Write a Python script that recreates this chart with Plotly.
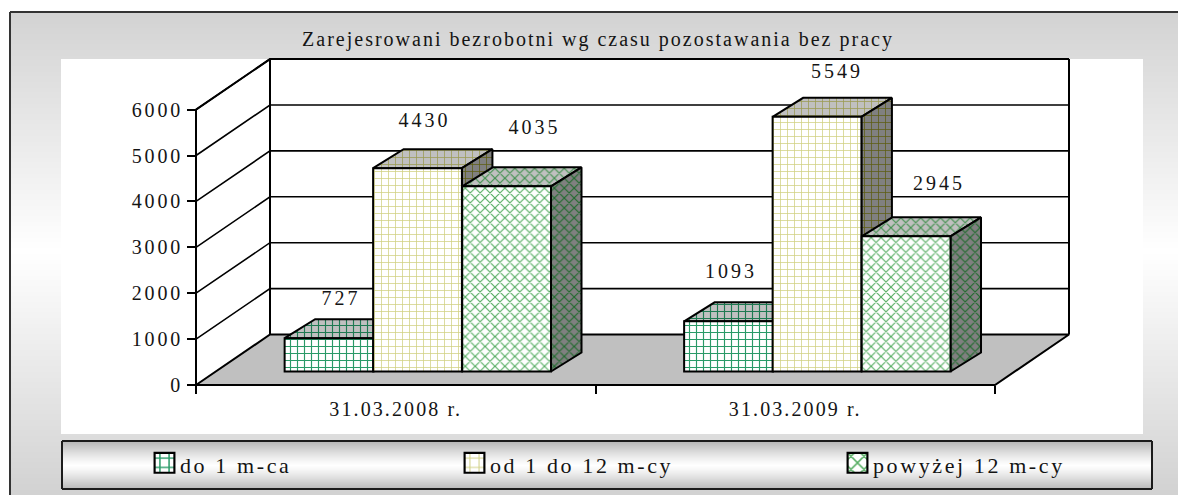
import plotly.graph_objects as go

# ---- data ----
categories = ["31.03.2008 r.", "31.03.2009 r."]
series_names = ["do 1 m-ca", "od 1 do 12 m-cy", "powyżej 12 m-cy"]
do_1_m = [727, 1093]
od_1_do_12 = [4430, 5549]
powyzej_12 = [4035, 2945]
y_ticks = [0, 1000, 2000, 3000, 4000, 5000, 6000]
title_text = "Zarejesrowani bezrobotni wg czasu pozostawania bez pracy"

# ---- figure geometry ----
W, H = 1178, 495
X0_PX, X_PX_PER_UNIT = 196.0, 399.5
Y0_PX, Y_PX_PER_UNIT = 385.0, 0.0459
x_range = [-X0_PX / X_PX_PER_UNIT, (W - X0_PX) / X_PX_PER_UNIT]
y_range = [(Y0_PX - H) / Y_PX_PER_UNIT, Y0_PX / Y_PX_PER_UNIT]
def ux(px): return px / X_PX_PER_UNIT
def uy(px): return px / Y_PX_PER_UNIT

WALL_DX, WALL_DY = ux(74), uy(50.5)
BAR_DX, BAR_DY = ux(30.5), uy(19)
BAR_BASE = uy(13.5)
BAR_W = ux(88.8)
BAR_OFFS = [-0.167, 0.0545, 0.2775]
LABEL_DX = [[12, 2.5], [7, 20], [28, 33]]
LABEL_LIFT = [[38, 48], [45.7, 43.5], [57, 51]]

series_values = [do_1_m, od_1_do_12, powyzej_12]
patterns = [
    dict(shape="+", fg="#2a9a68", size=7, sol=0.3),
    dict(shape="+", fg="#cfcf80", size=7, sol=0.2),
    dict(shape="x", fg="#55ad62", size=7, sol=0.3),
]
top_fg = ["#1f7a52", "#9a9a50", "#3f8f4c"]
side_fg = ["#1f6a42", "#5c5c10", "#1f6a2c"]

INK = "#141414"
FONT = "Liberation Serif"

# ---- background painted as bands ----
shapes = []
def band(x0, x1, y0, y1, color):
    shapes.append(dict(type="rect", xref="paper", yref="paper", layer="below",
                       x0=x0 / W, x1=x1 / W, y0=1 - y1 / H, y1=1 - y0 / H,
                       fillcolor=color, line_width=0))

def grey(level):
    v = int(round(level))
    return f"rgb({v},{v},{v})"

for yy in range(12, H, 2):
    t = min(abs(yy - 250) / 236, 1.06)
    band(10, W, yy, yy + 2, grey(255 - 44 * t))
band(61, 1143, 59, 434, "#ffffff")

# legend box
for yy in range(441, 489):
    t = abs(yy - 465) / 24
    band(62, 1152, yy, yy + 1, grey(255 - 72 * t ** 1.2))
for (a, b, c, d) in [(62, 1152, 441, 441), (62, 1152, 489, 489), (62, 62, 441, 489), (1152, 1152, 441, 489)]:
    shapes.append(dict(type="line", xref="paper", yref="paper", layer="below",
                       x0=a / W, x1=b / W, y0=1 - c / H, y1=1 - d / H,
                       line=dict(color="#1c1c1c", width=2)))
# outer frame
shapes.append(dict(type="line", xref="paper", yref="paper", layer="below", x0=10 / W, x1=1,
                   y0=1 - 12 / H, y1=1 - 12 / H, line=dict(color="#333333", width=2)))
shapes.append(dict(type="line", xref="paper", yref="paper", layer="below", x0=10 / W, x1=10 / W,
                   y0=0, y1=1 - 12 / H, line=dict(color="#333333", width=2)))

fig = go.Figure()
line_blk = dict(color="black", width=2)

# floor
fig.add_trace(go.Scatter(
    x=[0, 2, 2 + WALL_DX, WALL_DX, 0], y=[0, 0, WALL_DY, WALL_DY, 0],
    mode="lines", fill="toself", fillcolor="#C0C0C0", line=line_blk,
    showlegend=False, hoverinfo="skip"))

# gridlines on side and back wall
gx, gy = [], []
for t in y_ticks[1:]:
    gx += [0, WALL_DX, 2 + WALL_DX, None]
    gy += [t, t + WALL_DY, t + WALL_DY, None]
fig.add_trace(go.Scatter(x=gx, y=gy, mode="lines", line=dict(color="black", width=1.6),
                         showlegend=False, hoverinfo="skip"))
# wall frame and value axis line
top = y_ticks[-1]
fig.add_trace(go.Scatter(
    x=[0, 0, None, WALL_DX, WALL_DX, None, 2 + WALL_DX, 2 + WALL_DX, None, 0, WALL_DX, 2 + WALL_DX],
    y=[0, top, None, WALL_DY, top + WALL_DY, None, WALL_DY, top + WALL_DY, None, top, top + WALL_DY, top + WALL_DY],
    mode="lines", line=line_blk, showlegend=False, hoverinfo="skip"))

# top and side faces of the bars
for s, vals in enumerate(series_values):
    tx, ty, sx, sy = [], [], [], []
    for g, v in enumerate(vals):
        cx = g + 0.5 + BAR_OFFS[s]
        l, r = cx - BAR_W / 2, cx + BAR_W / 2
        tv = BAR_BASE + v
        tx += [l, r, r + BAR_DX, l + BAR_DX, l, None]
        ty += [tv, tv, tv + BAR_DY, tv + BAR_DY, tv, None]
        sx += [r, r + BAR_DX, r + BAR_DX, r, r, None]
        sy += [BAR_BASE, BAR_BASE + BAR_DY, tv + BAR_DY, tv, BAR_BASE, None]
    p = patterns[s]
    fig.add_trace(go.Scatter(
        x=tx, y=ty, mode="lines", fill="toself", line=line_blk, showlegend=False, hoverinfo="skip",
        fillpattern=dict(shape=p["shape"], bgcolor="#C0C0C0", fgcolor=top_fg[s], fgopacity=1,
                         size=p["size"], solidity=p["sol"])))
    fig.add_trace(go.Scatter(
        x=sx, y=sy, mode="lines", fill="toself", line=line_blk, showlegend=False, hoverinfo="skip",
        fillpattern=dict(shape=p["shape"], bgcolor="#808080", fgcolor=side_fg[s], fgopacity=1,
                         size=p["size"], solidity=p["sol"])))

# front faces on an overlaid subplot, so they cover the scatter faces behind them
for s, vals in enumerate(series_values):
    p = patterns[s]
    fig.add_trace(go.Bar(
        name=series_names[s], x=[g + 0.5 + BAR_OFFS[s] for g in range(len(vals))], y=vals,
        base=[BAR_BASE] * len(vals), width=BAR_W, xaxis="x2", yaxis="y2",
        legend="legend" if s == 0 else f"legend{s + 1}",
        marker=dict(color="white", line=dict(color="black", width=2),
                    pattern=dict(shape=p["shape"], bgcolor="white", fgcolor=p["fg"], fgopacity=1,
                                 size=p["size"], solidity=p["sol"]))))

# data labels
for s, vals in enumerate(series_values):
    fig.add_trace(go.Scatter(
        x=[g + 0.5 + BAR_OFFS[s] + ux(LABEL_DX[s][g]) for g in range(len(vals))],
        y=[BAR_BASE + v + uy(LABEL_LIFT[s][g]) for g, v in enumerate(vals)],
        text=[str(v) for v in vals], mode="text", textposition="middle center",
        textfont=dict(family=FONT, size=20, color=INK),
        xaxis="x2", yaxis="y2", showlegend=False, hoverinfo="skip"))

tick_font = dict(family=FONT, size=20, color=INK)
legend_common = dict(orientation="v", yanchor="middle", xanchor="left", y=1 - 465 / H,
                     bgcolor="rgba(0,0,0,0)", borderwidth=0,
                     font=dict(family=FONT, size=22, color=INK), tracegroupgap=0)

fig.update_layout(
    width=W, height=H, autosize=False, barmode="overlay",
    margin=dict(l=0, r=0, t=0, b=0, pad=0),
    paper_bgcolor="white", plot_bgcolor="rgba(0,0,0,0)",
    shapes=shapes,
    title=dict(text=title_text, x=598 / W, xanchor="center", xref="paper",
               y=1 - 39 / H, yanchor="middle", yref="paper",
               font=dict(family=FONT, size=20, color=INK)),
    xaxis=dict(domain=[0, 1], range=x_range, anchor="free", position=1 - Y0_PX / H,
               showgrid=False, zeroline=False, showline=False,
               tickmode="array", tickvals=[g + 0.5 for g in range(len(categories))], ticktext=categories,
               ticks="outside", ticklen=6, tickcolor="rgba(0,0,0,0)", tickfont=tick_font, automargin=False,
               minor=dict(tickmode="array", tickvals=list(range(len(categories) + 1)), ticks="outside",
                          ticklen=8, tickwidth=2, tickcolor="black", showgrid=False)),
    yaxis=dict(domain=[0, 1], range=y_range, anchor="free", position=X0_PX / W,
               showgrid=False, zeroline=False, showline=False,
               tickmode="array", tickvals=y_ticks, ticks="outside", ticklen=9, tickwidth=2,
               tickcolor="black", tickfont=tick_font, automargin=False),
    xaxis2=dict(domain=[0, 1], range=x_range, overlaying="x", anchor="y2", visible=False),
    yaxis2=dict(domain=[0, 1], range=y_range, overlaying="y", anchor="x2", visible=False),
    legend=dict(x=140 / W, **legend_common),
    legend2=dict(x=450 / W, **legend_common),
    legend3=dict(x=833 / W, **legend_common),
)

post = """
document.documentElement.style.overflow='hidden';
document.body.style.margin='0';
var st=document.createElement('style');
st.textContent=".xtick text{letter-spacing:2.1px}"
 +".ytick text{letter-spacing:2.8px}"
 +".gtitle{letter-spacing:2px}"
 +".textpoint text{letter-spacing:3px}"
 +".legendtext,.legend2text,.legend3text{letter-spacing:2.6px}"
 +".scrollbox{clip-path:none!important}"
 +".legendpoints path{transform:translate(24.5px,-2px) scale(1.65)!important;stroke-width:1.3px!important}";
document.head.appendChild(st);
"""
fig.write_html("out.html", config=dict(displayModeBar=False), post_script=post)
